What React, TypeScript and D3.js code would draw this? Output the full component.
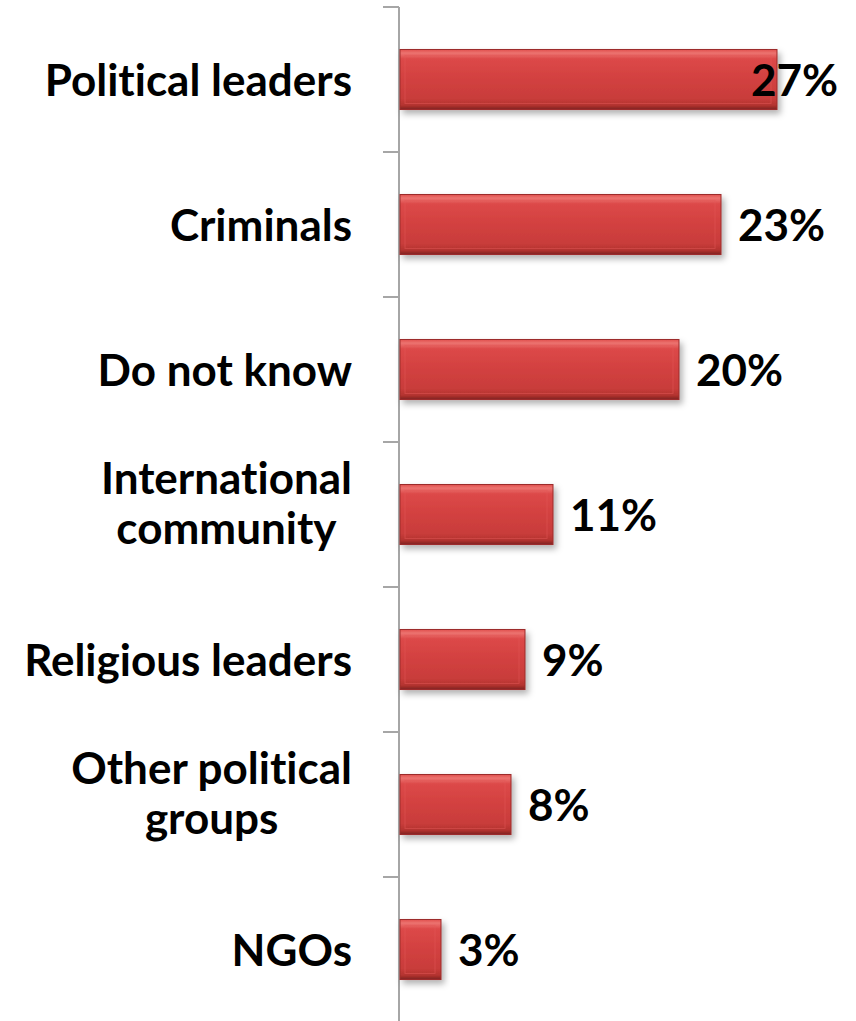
import React, { useEffect, useRef } from "react";
import * as d3 from "d3";

const categories: string[][] = [
  ["Political leaders"],
  ["Criminals"],
  ["Do not know"],
  ["International", "community"],
  ["Religious leaders"],
  ["Other political", "groups"],
  ["NGOs"],
];
const values: number[] = [27, 23, 20, 11, 9, 8, 3];
const valueLabels: string[] = ["27%", "23%", "20%", "11%", "9%", "8%", "3%"];

const W = 856;
const H = 1021;
const FONT = "Lato, 'Open Sans', sans-serif";
const FS = 44;

export default function App() {
  const ref = useRef<SVGSVGElement | null>(null);

  useEffect(() => {
    const svg = d3.select(ref.current);
    svg.selectAll("*").remove();

    const axisX = 399;
    const top = 7;
    const bottom = 1022;
    const ids = categories.map((_, i) => String(i));

    const y = d3
      .scaleBand<string>()
      .domain(ids)
      .range([top, bottom])
      .paddingInner(0.586)
      .paddingOuter(0.293);
    const x = d3.scaleLinear().domain([0, 27]).range([axisX, 777]);

    const defs = svg.append("defs");
    const grad = defs
      .append("linearGradient")
      .attr("id", "barGrad")
      .attr("x1", 0)
      .attr("y1", 0)
      .attr("x2", 0)
      .attr("y2", 1);
    [
      [0, "#e0504e"],
      [0.06, "#ec7370"],
      [0.16, "#dc4848"],
      [0.5, "#d24140"],
      [0.82, "#c83c3a"],
      [0.93, "#b3332f"],
      [1, "#7e2422"],
    ].forEach(([o, c]) =>
      grad.append("stop").attr("offset", o as number).attr("stop-color", c as string)
    );
    const filt = defs
      .append("filter")
      .attr("id", "shadow")
      .attr("x", "-10%")
      .attr("y", "-20%")
      .attr("width", "130%")
      .attr("height", "160%");
    filt
      .append("feDropShadow")
      .attr("dx", 3)
      .attr("dy", 4)
      .attr("stdDeviation", 3)
      .attr("flood-color", "#000")
      .attr("flood-opacity", 0.3);

    // axis line and ticks
    const step = y.step();
    svg
      .append("line")
      .attr("x1", axisX)
      .attr("x2", axisX)
      .attr("y1", top)
      .attr("y2", H)
      .attr("stroke", "#a6a6a6")
      .attr("stroke-width", 2);
    d3.range(categories.length + 1).forEach((i) => {
      const ty = top + i * step;
      svg
        .append("line")
        .attr("x1", axisX - 16)
        .attr("x2", axisX)
        .attr("y1", ty)
        .attr("y2", ty)
        .attr("stroke", "#a6a6a6")
        .attr("stroke-width", 2);
    });

    const g = svg.append("g");
    // bars
    g.selectAll("rect.bar")
      .data(values)
      .join("rect")
      .attr("class", "bar")
      .attr("x", axisX + 1)
      .attr("y", (_, i) => y(ids[i])!)
      .attr("width", (d) => x(d) - axisX - 1)
      .attr("height", y.bandwidth())
      .attr("fill", "url(#barGrad)")
      .attr("stroke", "#9c2c2a")
      .attr("stroke-width", 1)
      .attr("filter", "url(#shadow)");
    // inner bevel highlight
    g.selectAll("rect.bevel")
      .data(values)
      .join("rect")
      .attr("class", "bevel")
      .attr("x", axisX + 6)
      .attr("y", (_, i) => y(ids[i])! + 6)
      .attr("width", (d) => Math.max(0, x(d) - axisX - 12))
      .attr("height", y.bandwidth() - 12)
      .attr("fill", "none")
      .attr("stroke", "#e35a58")
      .attr("stroke-opacity", 0.5)
      .attr("stroke-width", 1);

    // value labels
    values.forEach((v, i) => {
      const cy = y(ids[i])! + y.bandwidth() / 2;
      const t = svg
        .append("text")
        .attr("y", cy + 16)
        .attr("font-family", FONT)
        .attr("font-weight", 700)
        .attr("font-size", FS)
        .attr("fill", "#000")
        .style("font-variant-ligatures", "none")
        .text(valueLabels[i]);
      const w = (t.node() as SVGTextElement).getComputedTextLength();
      const lx = Math.min(x(v) + 17, 838 - w);
      t.attr("x", lx);
    });

    // category labels
    const right = 352;
    categories.forEach((lines, i) => {
      const cy = y(ids[i])! + y.bandwidth() / 2;
      const n = lines.length;
      const texts = lines.map((ln, j) =>
        svg
          .append("text")
          .attr("y", cy + 16 - (n - 1) * 37 + j * 50)
          .attr("font-family", FONT)
          .attr("font-weight", 700)
          .attr("font-size", FS)
          .attr("fill", "#000")
          .attr("text-anchor", "middle")
          .style("font-variant-ligatures", "none")
          .style("font-feature-settings", "'liga' 0, 'clig' 0")
          .text(ln)
      );
      const widths = texts.map((t) => (t.node() as SVGTextElement).getComputedTextLength());
      const maxW = Math.max(...widths);
      texts.forEach((t) => t.attr("x", right - maxW / 2));
    });
  }, []);

  return (
    <svg
      ref={ref}
      width={W}
      height={H}
      style={{ position: "absolute", left: 0, top: 0, background: "#fff" }}
    />
  );
}
